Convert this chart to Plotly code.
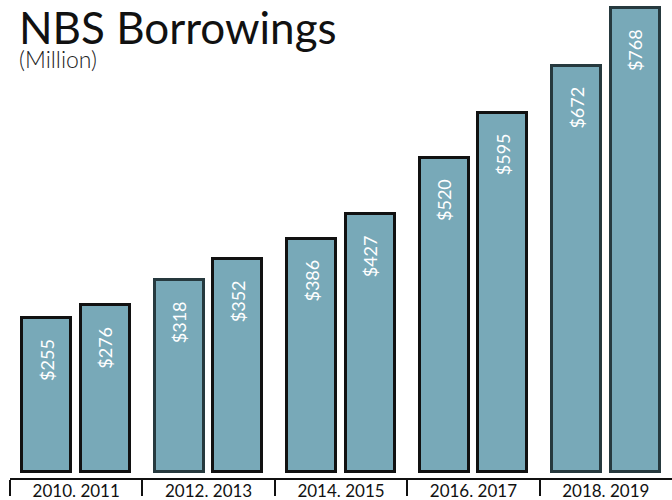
import plotly.graph_objects as go

years = ["2010", "2011", "2012", "2013", "2014", "2015", "2016", "2017", "2018", "2019"]
values = [255, 276, 318, 352, 386, 427, 520, 595, 672, 768]
group_labels = ["2010. 2011", "2012. 2013", "2014. 2015", "2016. 2017", "2018. 2019"]
outline_colors = ["#111111", "#111111", "#26393e", "#111111", "#111111",
                  "#111111", "#111111", "#111111", "#26393e", "#26393e"]
fill_color = "#78a9b8"

# bar x positions: two bars per group, group i centred at i+0.5
offset = 0.221
xs = [i // 2 + 0.5 + (-offset if i % 2 == 0 else offset) for i in range(len(values))]
group_centres = [i + 0.5 for i in range(len(group_labels))]

fig = go.Figure()
fig.add_trace(go.Bar(
    x=xs, y=values, width=0.37,
    marker=dict(color=fill_color, line=dict(color=outline_colors, width=3)),
    hoverinfo="skip",
))

for x, v in zip(xs, values):
    fig.add_annotation(
        x=x, y=v, xref="x", yref="y", text=f"${v}", textangle=-90,
        showarrow=False, yanchor="top", xanchor="center", yshift=-19,
        font=dict(family="Lato", size=18, color="white"),
    )

fig.add_annotation(
    x=8 / 662, y=1.0, xref="paper", yref="paper", text="NBS Borrowings",
    showarrow=False, xanchor="left", yanchor="top", yshift=0, borderpad=0,
    font=dict(family="Lato", size=44, color="#111111"),
)
fig.add_annotation(
    x=8 / 662, y=1.0, xref="paper", yref="paper", text="(Million)",
    showarrow=False, xanchor="left", yanchor="top", yshift=-44, borderpad=0,
    font=dict(family="Lato", size=23, color="#222222", weight=300),
)

fig.update_layout(
    width=672, height=500,
    margin=dict(l=10, r=0, t=0, b=22),
    paper_bgcolor="white", plot_bgcolor="white",
    showlegend=False,
    bargap=0,
    xaxis=dict(
        range=[0, 5], tickvals=group_centres, ticktext=group_labels,
        ticks="", showline=True, linecolor="#111111", linewidth=2,
        showgrid=False, zeroline=False, automargin=False,
        ticklabelstandoff=-3,
        tickfont=dict(family="Lato", size=17, color="#111111"),
        minor=dict(tickmode="array", tickvals=[0, 1, 2, 3, 4], ticks="outside",
                   ticklen=16, tickwidth=2, tickcolor="#111111", showgrid=False),
    ),
    yaxis=dict(range=[-9.9, 781.3], visible=False, automargin=False),
)

fig.write_html("out.html")
